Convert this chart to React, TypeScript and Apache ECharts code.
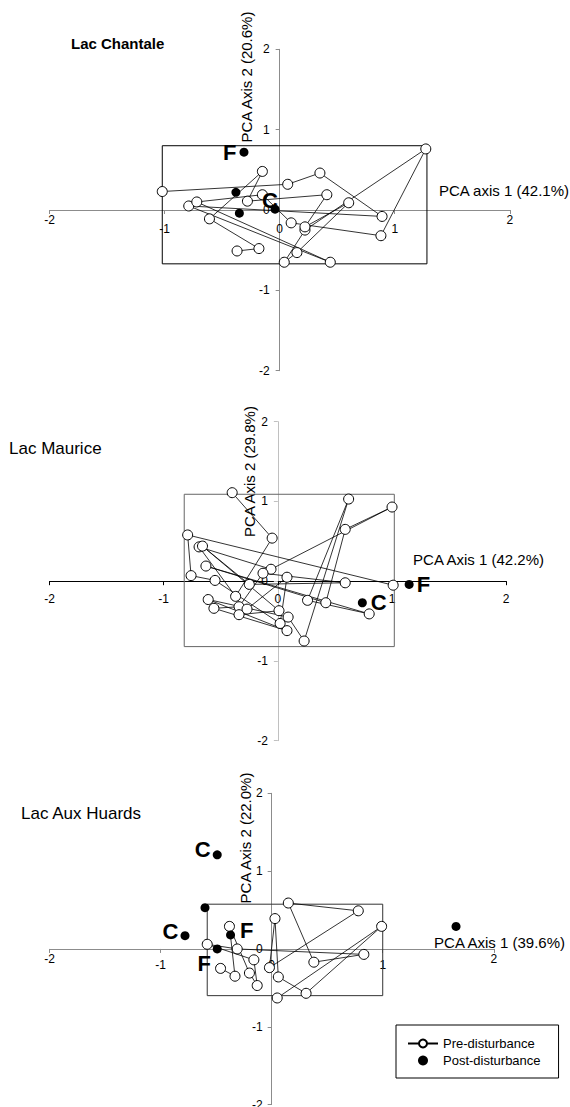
import React, { useEffect, useRef } from "react";
import * as echarts from "echarts";

type Pt = [number, number];

// ---------------- DATA ----------------
const axisTicks = [-2, -1, 0, 1, 2];
const panelTitles = ["Lac Chantale", "Lac Maurice", "Lac Aux Huards"];
const axis1Names = ["PCA axis 1 (42.1%)", "PCA Axis 1 (42.2%)", "PCA Axis 1 (39.6%)"];
const axis2Names = ["PCA Axis 2 (20.6%)", "PCA Axis 2 (29.8%)", "PCA Axis 2 (22.0%)"];
const legendNames = ["Pre-disturbance", "Post-disturbance"];

// Lac Chantale – pre-disturbance trajectory (in sample order)
const chantalePre: Pt[] = [
  [-1.02, 0.23], [0.07, 0.32], [0.35, 0.46], [0.89, -0.08], [-0.79, 0.05],
  [0.44, -0.65], [-0.72, 0.1], [-0.15, 0.19], [0.1, -0.16], [0.88, -0.32],
  [1.27, 0.76], [0.22, -0.25], [0.04, -0.65], [0.15, -0.53], [0.6, 0.09],
  [0.22, -0.21], [0.41, 0.19], [-0.28, 0.11], [-0.15, 0.48], [-0.61, -0.11],
  [-0.18, -0.48], [-0.37, -0.51],
];
const chantalePost: Pt[] = [[-0.31, 0.72], [-0.38, 0.22], [-0.35, -0.04], [-0.04, 0.01]];
const chantalePostLabels = ["F", "", "", "C"];
const chantaleBox: Pt[] = [[-1.02, -0.67], [1.28, 0.8]];

// Lac Maurice
const mauricePre: Pt[] = [
  [-0.4, 1.11], [-0.05, 0.54], [-0.37, -0.19], [-0.69, 0.43], [-0.06, 0.15],
  [1.0, 0.93], [0.59, 0.65], [0.42, -0.27], [-0.63, 0.19], [0.8, -0.41],
  [0.26, -0.24], [0.62, 1.03], [0.23, -0.75], [0.09, -0.45], [-0.61, -0.23],
  [0.08, -0.62], [-0.56, -0.34], [-0.34, -0.32], [-0.13, 0.1], [0.59, -0.02],
  [-0.25, -0.04], [-0.66, 0.44], [0.01, -0.37], [-0.34, -0.42], [-0.27, -0.35],
  [0.08, 0.05], [0.02, -0.53], [-0.55, 0.01], [-0.76, 0.07], [-0.79, 0.58],
  [1.01, -0.05],
];
const mauricePost: Pt[] = [[1.15, -0.04], [0.74, -0.27]];
const mauricePostLabels = ["F", "C"];
const mauriceBox: Pt[] = [[-0.82, -0.82], [1.02, 1.09]];

// Lac Aux Huards
const huardsPre: Pt[] = [
  [-0.46, -0.25], [-0.33, -0.35], [-0.38, 0.29], [-0.2, -0.31], [-0.13, -0.47],
  [-0.16, -0.14], [-0.58, 0.06], [-0.31, 0.0], [0.83, -0.07], [0.38, -0.17],
  [0.15, 0.59], [0.78, 0.49], [-0.02, -0.24], [0.03, 0.39], [0.06, -0.36],
  [0.31, -0.57], [0.99, 0.29], [0.05, -0.63],
];
const huardsPost: Pt[] = [[-0.49, 1.21], [-0.6, 0.53], [-0.78, 0.17], [-0.37, 0.18], [-0.49, 0.0], [1.66, 0.29]];
const huardsPostLabels = ["C", "", "C", "F", "F", ""];
const huardsBox: Pt[] = [[-0.58, -0.6], [1.0, 0.575]];

// ---------------- LAYOUT / STYLE ----------------
const FONT = "'Liberation Sans', Arial, Helvetica, sans-serif";

const grids = [
  { left: 49.5, top: 49.3, width: 460.3, height: 321.4 },
  { left: 49.5, top: 421.7, width: 456.7, height: 319 },
  { left: 49.5, top: 793.3, width: 444.3, height: 311.3 },
];

const panelStyle = [
  { xColor: "#8c8c8c", yColor: "#8c8c8c", boxColor: "#000", xMargin: 4, xPad: 9, yMargin: 10 },
  { xColor: "#000", yColor: "#c0c0c0", boxColor: "#666", xMargin: 12, xPad: 0, yMargin: 10 },
  { xColor: "#8c8c8c", yColor: "#8c8c8c", boxColor: "#333", xMargin: 4, xPad: 6, yMargin: 9 },
];

const postLabelLayout: any[][] = [
  [{ position: "left", distance: 3 }, null, null, { position: "inside", offset: [-5, -9] }],
  [{ position: "right", distance: 3 }, { position: "right", distance: 4 }],
  [
    { position: "left", distance: 2, offset: [0, -5] },
    null,
    { position: "left", distance: 2, offset: [0, -4] },
    { position: "right", distance: 5, offset: [0, -4] },
    { position: "inside", offset: [-13, 15] },
    null,
  ],
];

const titleLayout = [
  { x: 71, y: 43.5, size: 15, weight: "bold" },
  { x: 9, y: 448.5, size: 17, weight: "normal" },
  { x: 21, y: 813.5, size: 17, weight: "normal" },
];
const xNameLayout = [
  { x: 569, y: 190.7 },
  { x: 544, y: 559.3 },
  { x: 565, y: 942.7 },
];
const yNameLayout = [
  { x: 246.5, y: 77 },
  { x: 249, y: 471.5 },
  { x: 245.5, y: 838 },
];

const panels = [
  { pre: chantalePre, post: chantalePost, labels: chantalePostLabels, box: chantaleBox },
  { pre: mauricePre, post: mauricePost, labels: mauricePostLabels, box: mauriceBox },
  { pre: huardsPre, post: huardsPost, labels: huardsPostLabels, box: huardsBox },
];

function buildOption() {
  const xAxis: any[] = [];
  const yAxis: any[] = [];
  const series: any[] = [];
  const graphic: any[] = [];

  panels.forEach((p, i) => {
    const st = panelStyle[i];
    const g = grids[i];
    xAxis.push({
      gridIndex: i,
      type: "value",
      position: "bottom",
      offset: -g.height / 2,
      min: axisTicks[0],
      max: axisTicks[axisTicks.length - 1],
      interval: 1,
      axisLine: { show: true, onZero: false, lineStyle: { color: st.xColor, width: 1 } },
      axisTick: { show: true, inside: false, length: 4, lineStyle: { color: st.xColor } },
      splitLine: { show: false },
      axisLabel: {
        margin: st.xMargin,
        color: "#000",
        fontSize: 12,
        fontFamily: FONT,
        formatter: (v: number) => (Math.abs(v) === 2 ? `{o|${v}}` : `{n|${v}}`),
        rich: {
          o: { fontSize: 12, fontFamily: FONT, color: "#000" },
          n: { fontSize: 12, fontFamily: FONT, color: "#000", padding: [st.xPad, 0, 0, 0] },
        },
      },
    });
    yAxis.push({
      gridIndex: i,
      type: "value",
      position: "left",
      offset: -g.width / 2,
      min: axisTicks[0],
      max: axisTicks[axisTicks.length - 1],
      interval: 1,
      axisLine: { show: true, onZero: false, lineStyle: { color: st.yColor, width: 1 } },
      axisTick: { show: true, inside: false, length: 4, lineStyle: { color: st.yColor } },
      splitLine: { show: false },
      axisLabel: { margin: st.yMargin, color: "#000", fontSize: 12, fontFamily: FONT },
    });

    series.push({
      name: legendNames[0],
      type: "line",
      xAxisIndex: i,
      yAxisIndex: i,
      data: p.pre,
      symbol: "circle",
      symbolSize: 10,
      showAllSymbol: true,
      silent: true,
      lineStyle: { color: "#000", width: 0.8 },
      itemStyle: { color: "#fff", borderColor: "#000", borderWidth: 1 },
      emphasis: { disabled: true },
      z: 2,
      markArea: {
        silent: true,
        label: { show: false },
        itemStyle: { color: "rgba(0,0,0,0)", borderColor: st.boxColor, borderWidth: 1 },
        data: [[{ coord: p.box[0] }, { coord: p.box[1] }]],
      },
    });

    series.push({
      name: legendNames[1],
      type: "scatter",
      xAxisIndex: i,
      yAxisIndex: i,
      symbol: "circle",
      symbolSize: 9,
      silent: true,
      itemStyle: { color: "#000", opacity: 1 },
      emphasis: { disabled: true },
      z: 4,
      data: p.post.map((pt, k) => {
        const txt = p.labels[k];
        const lay = postLabelLayout[i][k];
        return {
          value: pt,
          label: txt
            ? {
                show: true,
                formatter: txt,
                fontSize: 22,
                fontWeight: "bold",
                fontFamily: FONT,
                color: "#000",
                ...lay,
              }
            : { show: false },
        };
      }),
    });

    const t = titleLayout[i];
    graphic.push({
      type: "text",
      x: t.x,
      y: t.y,
      silent: true,
      style: {
        text: panelTitles[i],
        fontSize: t.size,
        fontWeight: t.weight,
        fontFamily: FONT,
        fill: "#000",
        align: "left",
        verticalAlign: "middle",
      },
    });
    graphic.push({
      type: "text",
      x: xNameLayout[i].x,
      y: xNameLayout[i].y,
      silent: true,
      style: {
        text: axis1Names[i],
        fontSize: 15,
        fontFamily: FONT,
        fill: "#000",
        align: "right",
        verticalAlign: "middle",
      },
    });
    graphic.push({
      type: "text",
      x: yNameLayout[i].x,
      y: yNameLayout[i].y,
      rotation: Math.PI / 2,
      silent: true,
      style: {
        text: axis2Names[i],
        fontSize: 15,
        fontFamily: FONT,
        fill: "#000",
        align: "center",
        verticalAlign: "middle",
      },
    });
  });

  return {
    animation: false,
    backgroundColor: "#fff",
    textStyle: { fontFamily: FONT },
    grid: grids.map((g) => ({ ...g, containLabel: false, outerBoundsMode: "none" })),
    xAxis,
    yAxis,
    series,
    graphic,
    legend: {
      data: legendNames,
      orient: "vertical",
      left: 396,
      top: 1025,
      padding: [12, 18, 11, 11],
      itemGap: 4,
      itemWidth: 30,
      itemHeight: 10,
      borderColor: "#000",
      borderWidth: 1,
      selectedMode: false,
      textStyle: { fontSize: 13, fontFamily: FONT, color: "#000" },
    },
  };
}

export default function App() {
  const ref = useRef<HTMLDivElement>(null);
  useEffect(() => {
    if (!ref.current) return;
    const chart = echarts.init(ref.current, undefined, { renderer: "svg" });
    chart.setOption(buildOption() as any);
    return () => chart.dispose();
  }, []);
  return (
    <div
      ref={ref}
      style={{ position: "absolute", left: 0, top: 0, width: 570, height: 1107, background: "#fff" }}
    />
  );
}
